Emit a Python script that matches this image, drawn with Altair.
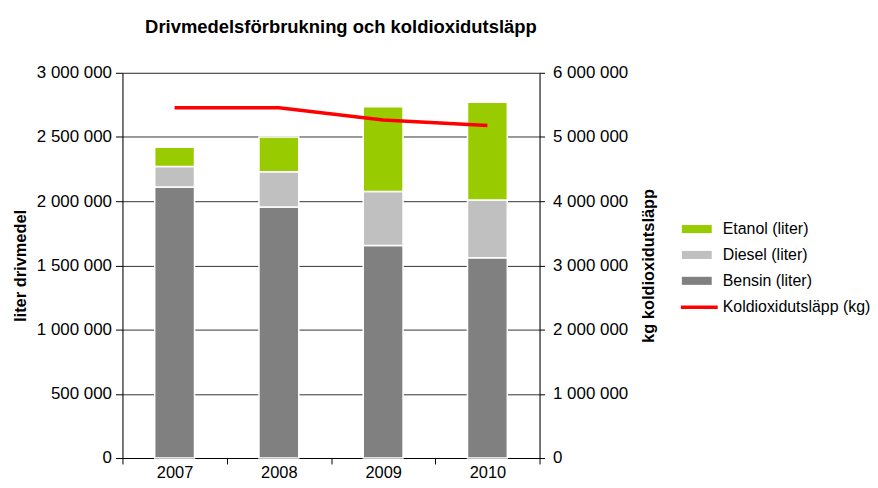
import altair as alt
import pandas as pd

years = ["2007", "2008", "2009", "2010"]
bensin = [2110000, 1955000, 1655000, 1560000]
diesel = [160000, 275000, 420000, 450000]
etanol = [150000, 270000, 660000, 760000]
co2 = [5455000, 5455000, 5265000, 5180000]

fuel_names = ["Etanol (liter)", "Diesel (liter)", "Bensin (liter)"]
fuel_colors = ["#99CC00", "#C0C0C0", "#808080"]
line_name = "Koldioxidutsläpp (kg)"
line_color = "#FF0000"

left_ticks = [0, 500000, 1000000, 1500000, 2000000, 2500000, 3000000]
right_ticks = [0, 1000000, 2000000, 3000000, 4000000, 5000000, 6000000]

rows = []
for i, y in enumerate(years):
    rows.append({"year": y, "fuel": "Bensin (liter)", "value": bensin[i], "ord": 1})
    rows.append({"year": y, "fuel": "Diesel (liter)", "value": diesel[i], "ord": 2})
    rows.append({"year": y, "fuel": "Etanol (liter)", "value": etanol[i], "ord": 3})
bars_df = pd.DataFrame(rows)
line_df = pd.DataFrame({"year": years, "co2": co2, "series": [line_name] * len(years)})

FONT = "Liberation Sans"
fmt = "replace(replace(format(datum.value, ','), ',', ' '), ',', ' ')"

x_enc = alt.X(
    "year:N",
    sort=years,
    scale=alt.Scale(paddingInner=0, paddingOuter=0),
    axis=alt.Axis(
        title=None, labelAngle=0, tickBand="extent", tickSize=6,
        domainColor="#000", tickColor="#000", labelFontSize=16.5,
        labelColor="#000", labelPadding=1, labelFont=FONT,
    ),
)

bars = alt.Chart(bars_df).mark_bar(width=40, stroke="white", strokeWidth=1.5).encode(
    x=x_enc,
    y=alt.Y(
        "value:Q",
        stack="zero",
        scale=alt.Scale(domain=[0, 3000000], nice=False),
        axis=alt.Axis(
            title="liter drivmedel", values=left_ticks, labelExpr=fmt,
            grid=True, gridColor="#333", gridWidth=1, tickSize=7,
            domainColor="#000", tickColor="#000", labelFontSize=17,
            labelColor="#000", labelPadding=4, labelFont=FONT,
            titleFont=FONT, titleFontSize=16.5, titleFontWeight="bold",
            titleColor="#000", titlePadding=8,
        ),
    ),
    color=alt.Color(
        "fuel:N",
        scale=alt.Scale(domain=fuel_names, range=fuel_colors),
        legend=alt.Legend(
            title=None, orient="none", legendX=562, legendY=142,
            symbolType="M-1,-0.27H1V0.27H-1Z", symbolSize=900,
            symbolStrokeWidth=0, labelFontSize=16, labelFont=FONT,
            labelColor="#000", labelOffset=11, rowPadding=3, padding=0,
        ),
    ),
    order=alt.Order("ord:Q", sort="ascending"),
)

line = alt.Chart(line_df).mark_line(strokeWidth=3.5).encode(
    x=alt.X("year:N", sort=years),
    y=alt.Y(
        "co2:Q",
        scale=alt.Scale(domain=[0, 6000000], nice=False),
        axis=alt.Axis(
            title="kg koldioxidutsläpp", orient="right", values=right_ticks,
            labelExpr=fmt, grid=False, tickSize=5, domainColor="#000",
            tickColor="#000", labelFontSize=17, labelColor="#000",
            labelPadding=8, labelFont=FONT, titleFont=FONT,
            titleFontSize=16.5, titleFontWeight="bold", titleColor="#000",
            titlePadding=29, titleAngle=270,
        ),
    ),
    stroke=alt.Stroke(
        "series:N",
        scale=alt.Scale(domain=[line_name], range=[line_color]),
        legend=alt.Legend(
            title=None, orient="none", legendX=559, legendY=215,
            symbolType="stroke", symbolSize=1369, symbolStrokeWidth=3.5,
            labelFontSize=16, labelFont=FONT, labelColor="#000",
            labelOffset=3, padding=0,
        ),
    ),
)

chart = (
    alt.layer(bars, line)
    .resolve_scale(y="independent", color="independent")
    .properties(
        width=419,
        height=387,
        autosize=alt.AutoSizeParams(type="none"),
        padding={"left": 115, "top": 64, "right": 332, "bottom": 21},
        title=alt.TitleParams(
            "Drivmedelsförbrukning och koldioxidutsläpp",
            font=FONT, fontSize=18.5, fontWeight="bold", color="#000",
            anchor="middle", frame="group", dx=10, offset=27,
        ),
    )
    .configure_view(stroke=None)
    .configure(background="white")
)

chart.save("out.html", embed_options={"renderer": "svg", "actions": False})
